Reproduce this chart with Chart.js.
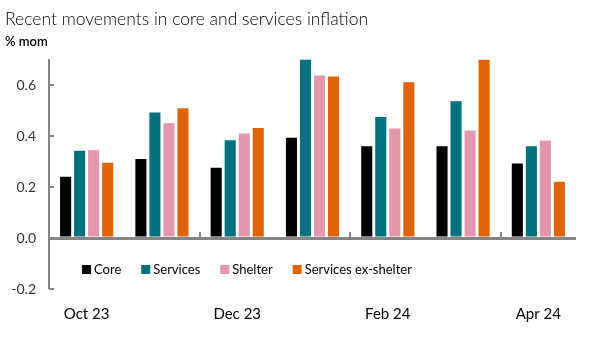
<!DOCTYPE html>
<html>
<head>
<meta charset="utf-8">
<script src="https://cdn.jsdelivr.net/npm/chart.js@4.4.1/dist/chart.umd.min.js"></script>
<style>
  html, body { margin: 0; padding: 0; background: #fff; }
  #wadah { width: 615px; height: 339px; }
</style>
</head>
<body>
<div id="wadah"><canvas id="grafik"></canvas></div>
<script>
// data
const bulan = ['Oct 23', 'Nov 23', 'Dec 23', 'Jan 24', 'Feb 24', 'Mar 24', 'Apr 24'];
const core = [0.24, 0.31, 0.276, 0.393, 0.36, 0.36, 0.292];
const services = [0.342, 0.492, 0.384, 0.70, 0.475, 0.537, 0.36];
const shelter = [0.344, 0.45, 0.41, 0.638, 0.43, 0.422, 0.383];
const servicesExShelter = [0.295, 0.509, 0.432, 0.634, 0.611, 0.70, 0.221];

const warnaSumbu = '#858585';
const hurufDasar = 'Lato, "Open Sans", sans-serif';

// legenda kecil di dalam area grafik
const legendaDalam = {
  id: 'legendaDalam',
  afterDraw(chart) {
    const ctx = chart.ctx;
    let x = 82;
    const yTengah = 269.5;
    ctx.save();
    ctx.font = '13px ' + hurufDasar;
    ctx.textBaseline = 'middle';
    chart.data.datasets.forEach(function(ds) {
      ctx.fillStyle = ds.backgroundColor;
      ctx.fillRect(x, yTengah - 4.5, 9, 9);
      ctx.fillStyle = '#000';
      ctx.fillText(ds.label, x + 12, yTengah + 0.5);
      x = x + 12 + ctx.measureText(ds.label).width + 20;
    });
    ctx.restore();
  }
};

// garis kecil: tick sumbu y ke dalam, tick kategori di garis nol
const tandaSumbu = {
  id: 'tandaSumbu',
  afterDatasetsDraw(chart) {
    const ctx = chart.ctx;
    const sx = chart.scales.x;
    const sy = chart.scales.y;
    const kiri = chart.chartArea.left;
    const nol = sy.getPixelForValue(0);
    ctx.save();
    ctx.strokeStyle = warnaSumbu;
    ctx.lineWidth = 2;
    [-0.2, 0.2, 0.4, 0.6].forEach(function(v) {
      const py = Math.round(sy.getPixelForValue(v));
      ctx.beginPath();
      ctx.moveTo(kiri, py);
      ctx.lineTo(kiri + 5, py);
      ctx.stroke();
    });
    [2, 4, 6].forEach(function(i) {
      const px = Math.round((sx.getPixelForValue(i - 1) + sx.getPixelForValue(i)) / 2);
      ctx.beginPath();
      ctx.moveTo(px, nol);
      ctx.lineTo(px, nol - 6);
      ctx.stroke();
    });
    ctx.restore();
  }
};

const konteks = document.getElementById('grafik').getContext('2d');
new Chart(konteks, {
  type: 'bar',
  data: {
    labels: bulan,
    datasets: [
      { label: 'Core', data: core, backgroundColor: '#000000' },
      { label: 'Services', data: services, backgroundColor: '#00727f' },
      { label: 'Shelter', data: shelter, backgroundColor: '#e396ac' },
      { label: 'Services ex-shelter', data: servicesExShelter, backgroundColor: '#e06405' }
    ]
  },
  options: {
    responsive: true,
    maintainAspectRatio: false,
    animation: false,
    categoryPercentage: 0.745,
    barPercentage: 0.79,
    layout: { padding: { left: 5, right: 39, top: 0, bottom: 0 } },
    plugins: {
      legend: { display: false },
      tooltip: { enabled: false },
      title: {
        display: true,
        text: 'Recent movements in core and services inflation',
        align: 'start',
        color: '#000',
        font: { family: hurufDasar, size: 17.5, weight: '300' },
        padding: { top: 9, bottom: 4 }
      },
      subtitle: {
        display: true,
        text: '% mom',
        align: 'start',
        color: '#000',
        font: { family: hurufDasar, size: 13, weight: '600' },
        padding: { top: 0, bottom: 10 }
      }
    },
    scales: {
      x: {
        grid: { display: false },
        border: { display: false },
        ticks: {
          autoSkip: false,
          maxRotation: 0,
          padding: 8,
          color: '#000',
          font: { family: hurufDasar, size: 15 },
          callback: function(nilai, indeks) {
            return indeks % 2 === 0 ? bulan[indeks] : '';
          }
        },
        afterFit: function(skala) { skala.height = 50; }
      },
      y: {
        min: -0.2,
        max: 0.7,
        border: { display: true, color: warnaSumbu, width: 2 },
        grid: {
          drawTicks: false,
          color: function(c) { return c.tick && c.tick.value === 0 ? warnaSumbu : 'rgba(0,0,0,0)'; },
          lineWidth: function(c) { return c.tick && c.tick.value === 0 ? 3 : 0; }
        },
        ticks: {
          stepSize: 0.2,
          includeBounds: false,
          padding: 13,
          color: '#333',
          font: { family: hurufDasar, size: 14 },
          callback: function(v) { return v.toFixed(1); }
        },
        afterFit: function(skala) { skala.width = 44; }
      }
    }
  },
  plugins: [legendaDalam, tandaSumbu]
});
</script>
</body>
</html>
